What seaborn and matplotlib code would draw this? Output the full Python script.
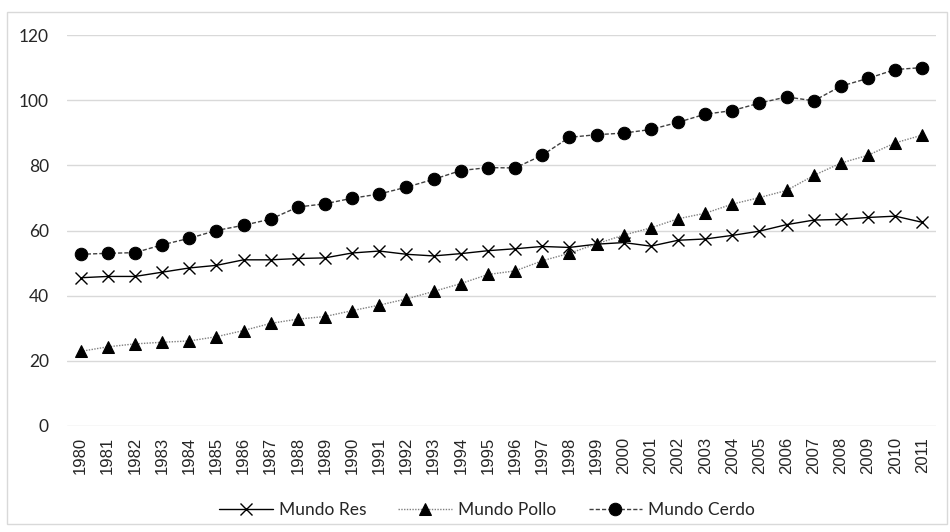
import matplotlib
matplotlib.use("Agg")
import matplotlib.pyplot as plt
import seaborn as sns
import pandas as pd
from matplotlib.patches import Rectangle

# datos
years = list(range(1980, 2012))
res = [45.5, 45.9, 45.9, 47.2, 48.5, 49.3, 51.0, 51.0, 51.4, 51.6, 53.1, 53.7,
       52.7, 52.2, 52.9, 53.8, 54.4, 55.1, 54.8, 55.8, 56.3, 55.2, 57.0, 57.4,
       58.5, 59.8, 61.8, 63.2, 63.4, 64.0, 64.4, 62.5]
pollo = [22.9, 24.3, 25.2, 25.7, 26.1, 27.4, 29.3, 31.5, 32.8, 33.6, 35.4, 37.1,
         39.0, 41.3, 43.7, 46.5, 47.6, 50.7, 53.0, 55.9, 58.6, 60.8, 63.6, 65.3,
         68.1, 70.1, 72.3, 76.9, 80.7, 83.1, 86.9, 89.3]
cerdo = [52.7, 53.0, 53.2, 55.6, 57.6, 60.0, 61.6, 63.5, 67.2, 68.2, 69.9, 71.2,
         73.3, 75.7, 78.4, 79.3, 79.2, 83.1, 88.6, 89.4, 89.9, 91.0, 93.2, 95.7,
         96.8, 99.1, 101.0, 99.8, 104.3, 106.7, 109.4, 110.0]

df = pd.DataFrame({"pos": range(len(years)), "res": res, "pollo": pollo, "cerdo": cerdo})

sns.set_style("white")
plt.rcParams['font.family'] = ['Liberation Sans', 'DejaVu Sans']

fig = plt.figure(figsize=(9.5, 5.32), dpi=100)
ax = fig.add_axes([67 / 950, 1 - 426 / 532, (936 - 67) / 950, (426 - 35) / 532])

sns.lineplot(data=df, x="pos", y="res", ax=ax, color="black", lw=1.0,
             marker="x", markersize=8, markeredgewidth=1.0, markeredgecolor="black",
             label="Mundo Res")
sns.lineplot(data=df, x="pos", y="pollo", ax=ax, color="#7f7f7f", lw=1.0,
             linestyle=(0, (1, 1)), marker="^", markersize=8,
             markerfacecolor="black", markeredgecolor="black", label="Mundo Pollo")
sns.lineplot(data=df, x="pos", y="cerdo", ax=ax, color="#404040", lw=1.0,
             linestyle=(0, (3, 1.5)), marker="o", markersize=9,
             markerfacecolor="black", markeredgecolor="black", label="Mundo Cerdo")

ax.set_xlim(-0.5, len(years) - 0.5)
ax.set_ylim(0, 120)
ax.set_yticks(range(0, 121, 20))
ax.set_yticklabels([str(v) for v in range(0, 121, 20)], fontsize=12.5, family=['Lato', 'DejaVu Sans'])
ax.set_xticks(range(len(years)))
ax.set_xticklabels([str(y) for y in years], rotation=90, fontsize=12)
ax.tick_params(axis='x', length=0, pad=8)
ax.tick_params(axis='y', length=0, pad=13)
ax.set_xlabel("")
ax.set_ylabel("")
ax.grid(axis='y', color="#d9d9d9", lw=1.0)
ax.set_axisbelow(True)
for s in ax.spines.values():
    s.set_visible(False)

leg = ax.legend(loc="center", bbox_to_anchor=((487 - 67) / 869, -(510 - 426) / 391), ncol=3,
                frameon=False, prop={'family': ['Lato', 'DejaVu Sans'], 'size': 12.5},
                handlelength=3.1, columnspacing=1.85, handletextpad=0.35)

fig.patches.append(Rectangle((7 / 950, 1 - 524 / 532), (947 - 7) / 950, (524 - 12) / 532,
                             transform=fig.transFigure, fill=False, edgecolor="#d9d9d9", lw=1.0))

fig.savefig("out.png", dpi=100)
